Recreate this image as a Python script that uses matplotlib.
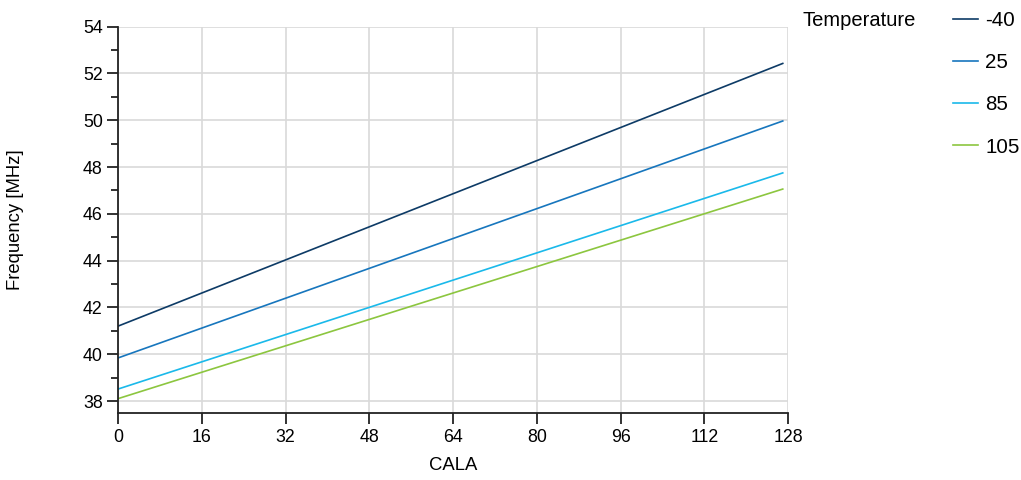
import numpy as np
import matplotlib
matplotlib.use("Agg")
import matplotlib.pyplot as plt
from matplotlib.ticker import MultipleLocator

plt.rcParams['font.family'] = ['Liberation Sans', 'DejaVu Sans']

# CALA code and frequency per temperature
cala = [0, 127]
temps = ['-40', '25', '85', '105']
f_m40 = [41.2, 52.43]
f_25 = [39.84, 49.97]
f_85 = [38.51, 47.75]
f_105 = [38.1, 47.06]
colors = ['#0d3b66', '#1776bd', '#1ab9ea', '#8cc63f']

fig = plt.figure(figsize=(10.21, 4.80), dpi=100)
ax = fig.add_axes([118/1021, 1-412.7/480, (788-118)/1021, (412.7-26.7)/480])

for vals, lab, c in zip([f_m40, f_25, f_85, f_105], temps, colors):
    ax.plot(cala, vals, color=c, lw=1.2, label=lab)

ax.set_xlim(0, 128)
ax.set_ylim(37.5, 54)
ax.xaxis.set_major_locator(MultipleLocator(16))
ax.yaxis.set_major_locator(MultipleLocator(2))
ax.yaxis.set_minor_locator(MultipleLocator(1))
ax.grid(True, which='major', color='#d9d9d9', lw=1.2)
ax.set_axisbelow(True)
for s in ['top', 'right']:
    ax.spines[s].set_visible(False)
for s in ['left', 'bottom']:
    ax.spines[s].set_linewidth(1.3)
    ax.spines[s].set_color('#222222')
ax.tick_params(axis='both', which='major', length=8, width=1.3, labelsize=12.8, color='#222222')
ax.tick_params(axis='y', which='minor', length=5, width=1.3, color='#222222')
ax.tick_params(axis='x', which='minor', length=0)
ax.tick_params(axis='y', pad=3)

fig.text(15/1021, 1-220/480, 'Frequency [MHz]', rotation=90, ha='center', va='center', fontsize=13.3)
fig.text(453/1021, 1-466/480, 'CALA', ha='center', va='center', fontsize=13.3)
fig.text(802/1021, 1-21/480, 'Temperature', ha='left', va='center', fontsize=14.5)

fig.legend(loc='upper left', bbox_to_anchor=(953/1021, 1-11/480), frameon=False,
           fontsize=14.8, handlelength=1.22, handletextpad=0.34, labelspacing=1.13,
           borderaxespad=0, borderpad=0)

fig.savefig('out.png', dpi=100)
